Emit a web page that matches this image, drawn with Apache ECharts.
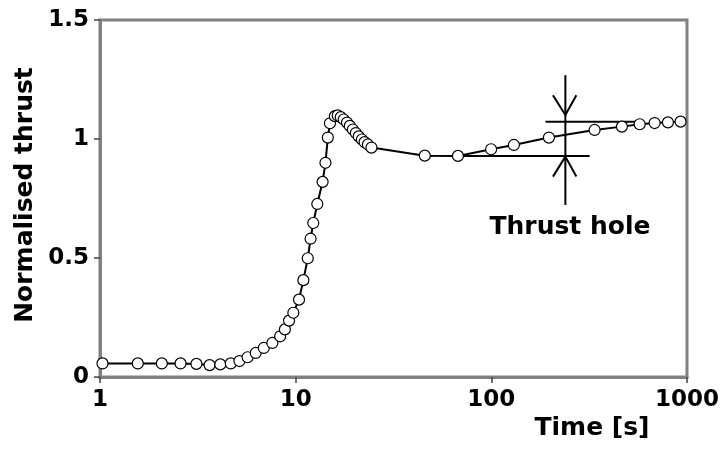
<!DOCTYPE html>
<html>
<head>
<meta charset="utf-8">
<script src="https://cdn.jsdelivr.net/npm/echarts@6/dist/echarts.min.js"></script>
<style>html,body{margin:0;padding:0;background:#fff}#c{width:723px;height:449px}</style>
</head>
<body>
<div id="c"></div>
<script>
// measured series: time [s] and normalised thrust
var timeS = [1.03,1.56,2.07,2.58,3.11,3.63,4.12,4.66,5.16,5.68,6.25,6.87,7.60,8.33,8.81,9.25,9.73,10.4,10.95,11.53,11.92,12.3,12.9,13.73,14.2,14.6,14.97,
  15.86,16.4,17.0,17.6,18.3,18.9,19.6,20.3,21.0,21.8,22.5,23.4,24.4,
  45.7,67.5,99.7,130.4,196.9,337,465,573,683,799,927];
var thrust = [0.057,0.057,0.057,0.057,0.055,0.050,0.053,0.057,0.067,0.083,0.101,0.122,0.143,0.171,0.200,0.237,0.270,0.325,0.407,0.499,0.581,0.647,0.727,0.820,0.900,1.006,1.066,
  1.096,1.099,1.092,1.082,1.069,1.055,1.040,1.025,1.011,0.998,0.987,0.977,0.964,
  0.930,0.929,0.957,0.975,1.006,1.038,1.052,1.062,1.067,1.070,1.073];
var xTicks = ['1','10','100','1000'];
var yTicks = ['0','0.5','1','1.5'];
// "thrust hole" annotation, in data coordinates
var upperLine = [[189,1.073],[551,1.073]];
var lowerLine = [[67.5,0.929],[318,0.929]];
var holeLine = [[239,0.723],[239,1.268]];
var arrowDown = [[206.5,1.184],[239,1.101],[272,1.184]];
var arrowUp = [[206.5,0.842],[239,0.926],[272,0.842]];

var F = 'DejaVu Sans';
var chart = echarts.init(document.getElementById('c'), null, {renderer:'canvas'});
var pts = timeS.map(function(t,i){return [t, thrust[i]];});
function annot(d){
  return {type:'line', data:d, symbol:'none', silent:true, z:3,
    lineStyle:{color:'#000', width:2}, animation:false};
}
chart.setOption({
  animation:false,
  grid:{left:100, top:20, width:587, height:357, show:true, borderColor:'#808080', borderWidth:3, backgroundColor:'transparent'},
  xAxis:{type:'log', logBase:10, min:1, max:1000,
    axisLine:{show:true, lineStyle:{color:'#808080', width:3}},
    axisTick:{show:true, inside:false, length:6, lineStyle:{color:'#444', width:1.5}},
    minorTick:{show:false}, splitLine:{show:false},
    axisLabel:{margin:12, color:'#000', fontFamily:F, fontWeight:'bold', fontSize:23,
      formatter:function(v){var s=String(Math.round(v)); return xTicks.indexOf(s)>=0?s:'';}}
  },
  yAxis:{type:'value', min:0, max:1.5, interval:0.5,
    axisLine:{show:true, lineStyle:{color:'#808080', width:3}},
    axisTick:{show:true, inside:false, length:6, lineStyle:{color:'#444', width:1.5}},
    splitLine:{show:false},
    axisLabel:{margin:11, color:'#000', fontFamily:F, fontWeight:'bold', fontSize:23,
      formatter:function(v){var i=Math.round(v/0.5); return yTicks[i]!==undefined?yTicks[i]:'';}}
  },
  graphic:[
    {type:'text', x:25, y:195, rotation:Math.PI/2, style:{text:'Normalised thrust', fill:'#000', font:'bold 25px "DejaVu Sans"', textAlign:'center', textVerticalAlign:'middle'}},
    {type:'text', x:592, y:428, style:{text:'Time [s]', fill:'#000', font:'bold 25px "DejaVu Sans"', textAlign:'center', textVerticalAlign:'middle'}},
    {type:'text', x:570, y:227, style:{text:'Thrust hole', fill:'#000', font:'bold 25px "DejaVu Sans"', textAlign:'center', textVerticalAlign:'middle'}}
  ],
  series:[
    annot(upperLine), annot(lowerLine), annot(holeLine), annot(arrowDown), annot(arrowUp),
    {type:'line', data:pts, z:5, symbol:'circle', symbolSize:11, showAllSymbol:true,
      lineStyle:{color:'#000', width:2},
      itemStyle:{color:'#fff', borderColor:'#000', borderWidth:1.2}}
  ]
});
</script>
</body>
</html>
